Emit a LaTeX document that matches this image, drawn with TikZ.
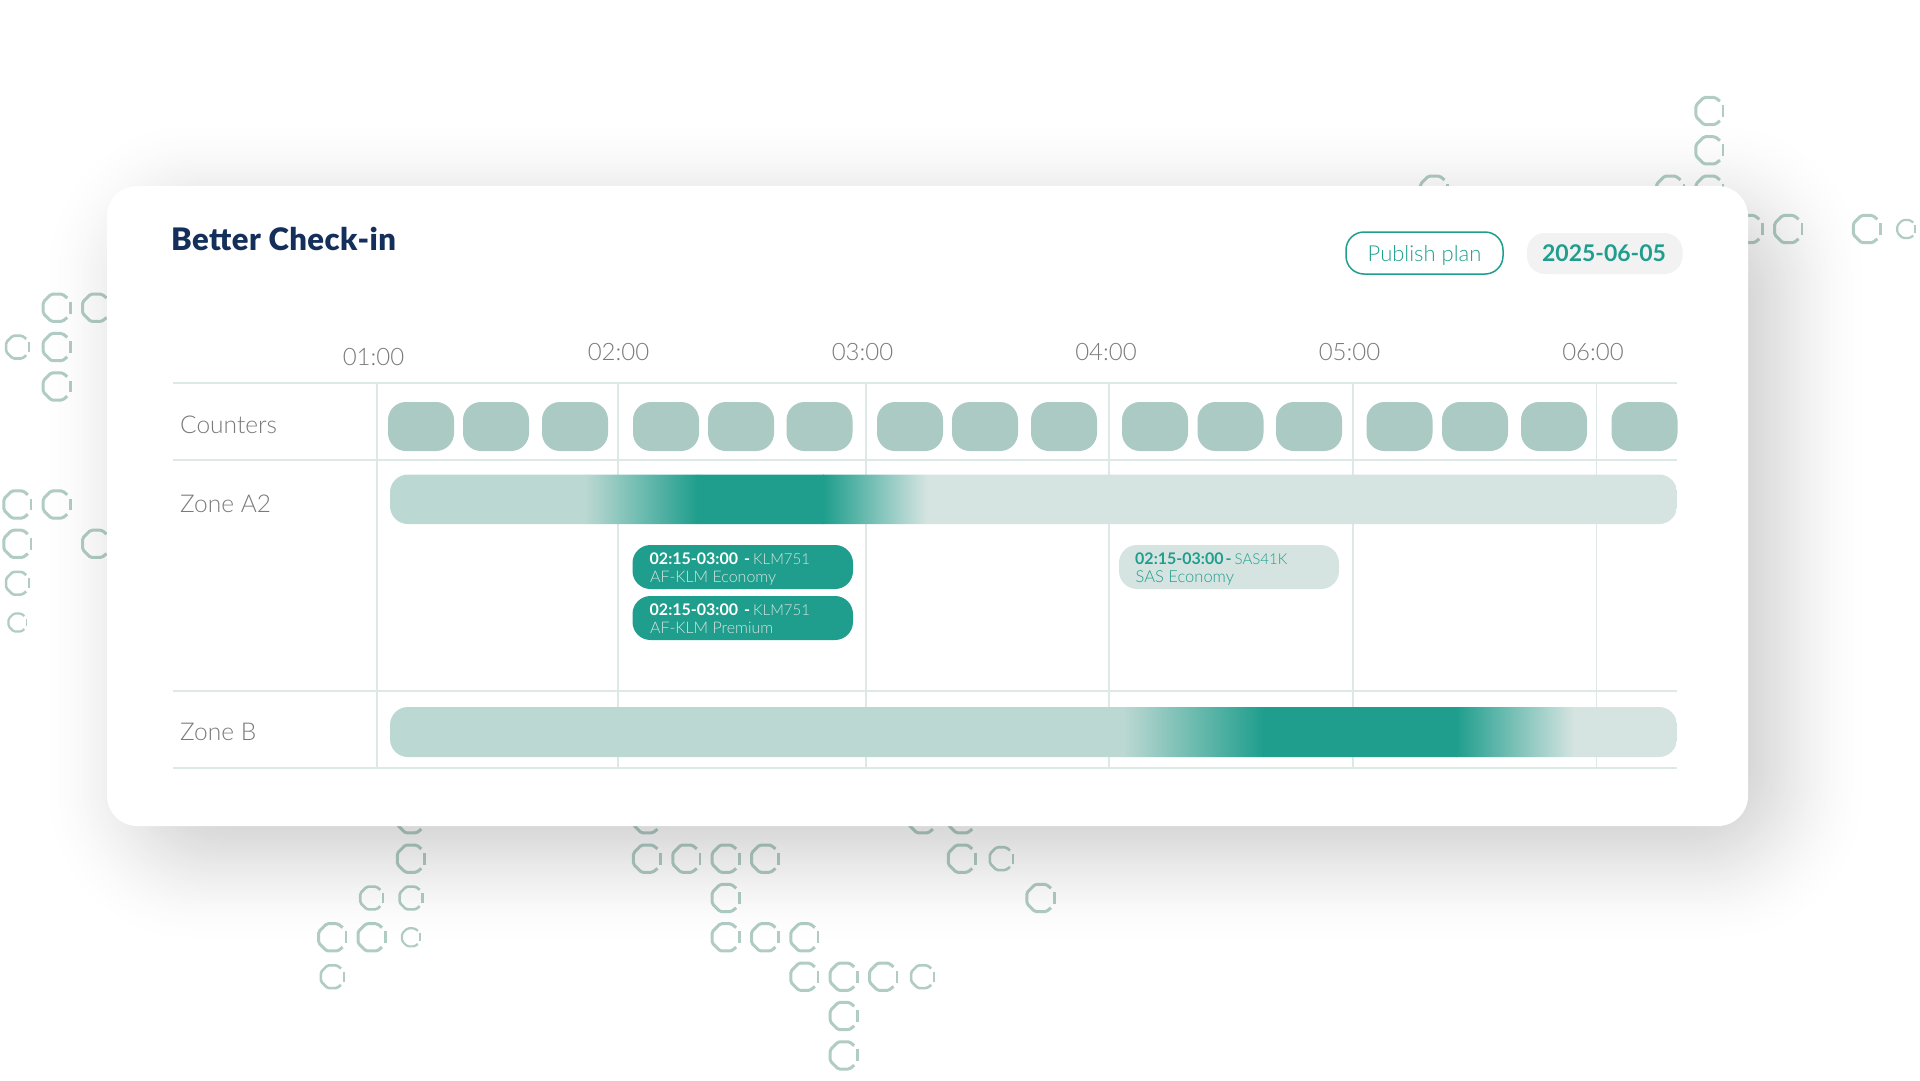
\documentclass[tikz,border=0pt]{standalone}
\usepackage{fontspec}
\setmainfont{Lato}[UprightFont=* Light,BoldFont=* Bold]
\newfontfamily\heavyf{Lato Black}[LetterSpace=1.5]
\usetikzlibrary{backgrounds}
\definecolor{teal1}{HTML}{1F9E8D}
\definecolor{navy1}{HTML}{14305A}
\definecolor{gridc}{HTML}{DDE9E6}
\definecolor{cnt}{HTML}{AACAC3}
\definecolor{barl}{HTML}{BCD8D2}
\definecolor{barr}{HTML}{D6E4E1}
\definecolor{ringc}{HTML}{B0CCC4}
\definecolor{txtg}{HTML}{7A7A7A}
\definecolor{pillg}{HTML}{F2F2F2}
\tikzset{
 gridline/.style={draw=gridc,line width=1.3pt},
 counter/.style={fill=cnt,rounded corners=18pt},
 timelabel/.style={text=txtg,font=\fontsize{24}{25}\selectfont,inner sep=0pt,anchor=base},
 rowlabel/.style={text=txtg,font=\fontsize{24.5}{25}\selectfont,inner sep=0pt,anchor=base west},
 pilltxt/.style={font=\fontsize{16}{16}\selectfont,inner sep=0pt,anchor=base west},
 ringline/.style={draw=ringc,line join=round,line cap=butt},
}
\newcommand{\ringat}[4]{%
 \begin{scope}[shift={({17.5+39.35*#1},{111+39.35*#2})},x=#3pt,y=-#3pt]
  \draw[ringline,line width=#4pt,rounded corners=1.5pt] (0.70,0.66) -- (0.38,0.92) -- (-0.38,0.92) -- (-0.92,0.38) -- (-0.92,-0.38) -- (-0.38,-0.92) -- (0.38,-0.92) -- (0.70,-0.66);
  \draw[ringline,line width=0.85*#4pt] (0.92,0.40) -- (0.92,-0.40);
 \end{scope}}
\begin{document}
\begin{tikzpicture}[x=1pt,y=-1pt]
\useasboundingbox (0,0) rectangle (1920,1080);
\fill[white] (0,0) rectangle (1920,1080);
% soft shadow: opaque layers from the outer edge inward
\foreach \e in {95,93,...,-95}{
  \pgfmathsetmacro\tt{(95-\e)/190}
  \pgfmathsetmacro\g{1-0.22*\tt*\tt*(3-2*\tt)}
  \pgfmathsetmacro\rr{85+0.68*\e}
  \definecolor{shd}{gray}{\g}
  \fill[shd,rounded corners=\rr pt] ({107+28-\e},{186+26-\e}) rectangle ({1748+28+\e},{826+26+\e});
}
% rings
\begin{scope}[blend mode=multiply]
\foreach \i/\j in {43/0,43/1,43/2,42/2,36/2,44/3,45/3,47/3,
  1/5,2/5,1/6,1/7,0/10,1/10,0/11,2/11,
  10/18,10/19,8/21,9/21,
  16/18,16/19,17/19,18/19,19/19,18/20,18/21,19/21,20/21,20/22,21/22,22/22,21/23,21/24,
  23/18,24/18,24/19,26/20}{\ringat{\i}{\j}{14.8}{3}}
\foreach \i/\j in {0/6,0/12,9/20,10/20,8/22,23/22,25/19}{\ringat{\i}{\j}{12.4}{2.6}}
\foreach \i/\j in {0/13,10/21,48/3}{\ringat{\i}{\j}{9.8}{2.2}}
\end{scope}
% card
\fill[white,rounded corners=30pt] (107,186) rectangle (1748,826);
% grid
\foreach \x in {377,618,866,1109,1353,1596.5}{\draw[gridline] (\x,383) -- (\x,768);}
\foreach \y in {383,460,691,768}{\draw[gridline] (173,\y) -- (1677,\y);}
% title and controls
\node[inner sep=0pt,anchor=base west,text=navy1,font=\fontsize{31}{31}\selectfont\heavyf] (title) at (171,250) {Better Check-in};
\draw[draw=teal1,line width=1.5pt,fill=white,rounded corners=18pt] (1346,232) rectangle (1503,274);
\node[inner sep=0pt,anchor=base,text=teal1,font=\fontsize{22}{22}\selectfont] (publish) at (1424.5,261) {Publish plan};
\fill[pillg,rounded corners=18pt] (1527,233) rectangle (1682.5,274);
\node[inner sep=0pt,anchor=base,text=teal1,font=\fontsize{23}{23}\selectfont\bfseries] (date) at (1604,261) {2025-06-05};
% time labels
\node[timelabel] (t1) at (373.5,365) {01:00};
\node[timelabel] (t2) at (618.5,360) {02:00};
\node[timelabel] (t3) at (862.5,360) {03:00};
\node[timelabel] (t4) at (1106,360) {04:00};
\node[timelabel] (t5) at (1349.5,360) {05:00};
\node[timelabel] (t6) at (1593,360) {06:00};
% row labels
\node[rowlabel] (r1) at (180,433) {Counters};
\node[rowlabel] (r2) at (180,512) {Zone A2};
\node[rowlabel] (r3) at (180,740) {Zone B};
% counters
\foreach \x in {388,463,542,633,708,786.5,877,952,1031,1122,1197.5,1276,1366.5,1442,1521,1611.5}{
  \fill[counter] (\x,402) rectangle ({\x+66},451);
}
% zone A2 bar
\begin{scope}
\clip[rounded corners=18pt] (390,474.5) rectangle (1677,524);
\fill[barl] (390,474) rectangle (585.5,525);
\shade[left color=barl,right color=teal1] (585,474) rectangle (697.5,525);
\fill[teal1] (697,474) rectangle (823.5,525);
\shade[left color=teal1,right color=barr] (823,474) rectangle (927.5,525);
\fill[barr] (927,474) rectangle (1677,525);
\end{scope}
% zone B bar
\begin{scope}
\clip[rounded corners=18pt] (390,707) rectangle (1677,757);
\fill[barl] (390,706) rectangle (1123.5,758);
\shade[left color=barl,right color=teal1] (1123,706) rectangle (1263.5,758);
\fill[teal1] (1263,706) rectangle (1456.5,758);
\shade[left color=teal1,right color=barr] (1456,706) rectangle (1574.5,758);
\fill[barr] (1574,706) rectangle (1677,758);
\end{scope}
% event pills
\fill[teal1,rounded corners=18pt] (632.5,545) rectangle (853,589);
\node[pilltxt,text=white,font=\fontsize{16}{16}\selectfont\bfseries] (e1a) at (649.5,564) {02:15-03:00\hspace{6pt}-};
\node[pilltxt,text=barr,font=\fontsize{15}{15}\selectfont] (e1c) at (753,564) {KLM751};
\node[pilltxt,text=barr] (e1b) at (650,582.5) {AF-KLM Economy};
\fill[teal1,rounded corners=18pt] (632.5,596) rectangle (853,640);
\node[pilltxt,text=white,font=\fontsize{16}{16}\selectfont\bfseries] (e2a) at (649.5,615) {02:15-03:00\hspace{6pt}-};
\node[pilltxt,text=barr,font=\fontsize{15}{15}\selectfont] (e2c) at (753,615) {KLM751};
\node[pilltxt,text=barr] (e2b) at (650,633.5) {AF-KLM Premium};
\fill[barr,rounded corners=18pt] (1119,545) rectangle (1339,589);
\node[pilltxt,text=teal1,font=\fontsize{16}{16}\selectfont\bfseries] (e3a) at (1135,564) {02:15-03:00\hspace{2pt}-};
\node[pilltxt,text=teal1,font=\fontsize{15}{15}\selectfont] (e3c) at (1234.5,564) {SAS41K};
\node[pilltxt,text=teal1,font=\fontsize{16.5}{16}\selectfont] (e3b) at (1135.5,582.5) {SAS Economy};
\end{tikzpicture}
\end{document}
